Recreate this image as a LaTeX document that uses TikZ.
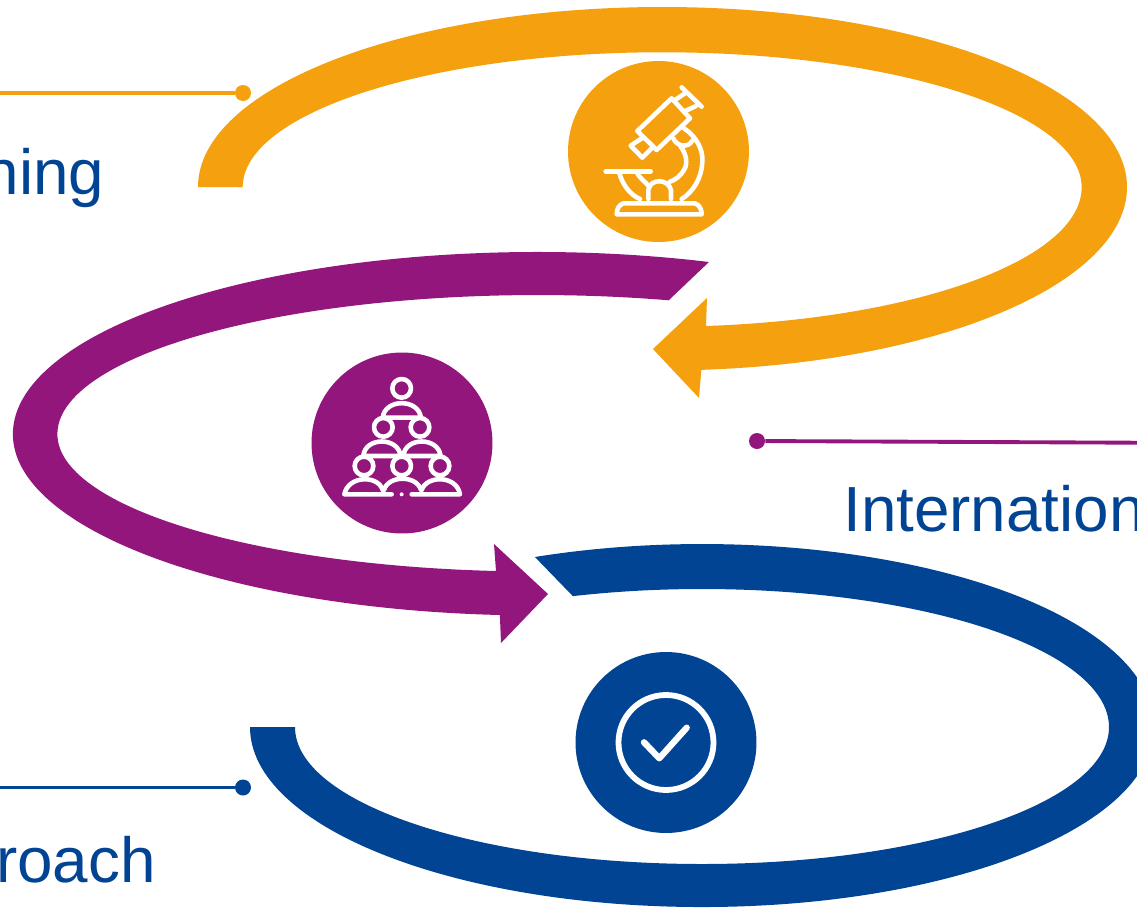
\documentclass[tikz,border=0pt]{standalone}
\usepackage{fontspec}
\setmainfont{Liberation Sans}
\usetikzlibrary{positioning}
\definecolor{cOrange}{HTML}{F4A00F}
\definecolor{cPurple}{HTML}{92167C}
\definecolor{cBlue}{HTML}{014494}
\tikzset{
  badge/.style={circle, minimum size=3.62cm, inner sep=0pt},
  tipdot/.style={circle, minimum size=0.32cm, inner sep=0pt},
  leader/.style={line width=2.2pt},
  label/.style={font=\fontsize{36.3}{43}\selectfont, text=cBlue, inner sep=0pt},
  icon/.style={white, line width=2.6pt, line cap=round, line join=round}
}

\begin{document}
\begin{tikzpicture}[x=0.02cm, y=-0.02cm]
\useasboundingbox (0,0) rectangle (1137,907);
\clip (0,0) rectangle (1137,907);

% Bands
\fill[cOrange] (198,187) arc[start angle=180, end angle=360, x radius=464.5, y radius=180]
  arc[start angle=0, end angle=85.2, x radius=464.5, y radius=183.5]
  -- (699,398) -- (653,349) -- (707,298) -- (706,326)
  arc[start angle=84, end angle=0, x radius=419.5, y radius=139.5]
  arc[start angle=360, end angle=180, x radius=419.5, y radius=135] -- cycle;
\fill[cPurple] (709,262) arc[start angle=289.1, end angle=180, x radius=524.5, y radius=182]
  arc[start angle=180, end angle=94.1, x radius=524.5, y radius=181.5]
  -- (501,643) -- (548,594) -- (494,544) -- (496,571)
  arc[start angle=95, end angle=180, x radius=480.5, y radius=137.5]
  arc[start angle=180, end angle=285.8, x radius=480.5, y radius=139] -- cycle;
\fill[cBlue] (534.9,557) arc[start angle=248.3, end angle=360, x radius=452, y radius=183]
  arc[start angle=0, end angle=180, x radius=452, y radius=180]
  -- (295,727) arc[start angle=180, end angle=0, x radius=407, y radius=137]
  arc[start angle=360, end angle=251.5, x radius=407, y radius=138] -- cycle;

% Badges
\node[badge, fill=cOrange] (O) at (658.5,151.5) {};
\node[badge, fill=cPurple] (P) at (402,443) {};
\node[badge, fill=cBlue] (B) at (666,742.5) {};

% Leaders
\node[tipdot, fill=cOrange] (OD) at (243,93) {};
\coordinate (OE) at (0,93);
\draw[leader, cOrange] (OE) -- (OD);
\node[tipdot, fill=cPurple] (PD) at (757,441) {};
\coordinate (PE) at (1137,442.7);
\draw[leader, cPurple] (PD) -- (PE);
\node[tipdot, fill=cBlue] (BD) at (243,787.5) {};
\coordinate (BE) at (0,787.5);
\draw[leader, cBlue] (BE) -- (BD);

% Labels
\node[label, anchor=base east] (OT) at (104.5,194) {ning};
\node[label, anchor=base west] (PT) at (843,531) {Internation};
\node[label, anchor=base east] (BT) at (156,882) {roach};

% Microscope
\begin{scope}[shift={(560,50)}, scale=0.3333, icon]
\draw (232,243) -- (335,145) -- (390,205) -- (290,300) -- cycle;
\draw (250,262) -- (212,287) -- (247,323) -- (278,292);
\draw (345,150) -- (378,128);
\draw (378,182) -- (408,168);
\draw (365,112) -- (425,170);
\draw (372,235) .. controls (410,260) and (430,300) .. (427,335) .. controls (425,385) and (400,425) .. (365,447);
\draw (362,290) .. controls (378,310) and (385,340) .. (372,360) .. controls (362,378) and (345,390) .. (330,395);
\draw (340,265) .. controls (350,290) and (385,295) .. (397,272);
\draw (178,368) .. controls (185,400) and (210,435) .. (240,447);
\draw (232,370) .. controls (240,385) and (255,395) .. (268,410);
\draw (265,447) -- (265,420) .. controls (270,385) and (325,385) .. (333,420) -- (333,447);
\draw (137,364) -- (272,364);
\draw (190,460) -- (405,460) .. controls (420,465) and (425,480) .. (425,493) -- (170,493) .. controls (170,480) and (175,465) .. (190,460);
\end{scope}

% People
\begin{scope}[shift={(310,350)}, scale=0.3333, icon]
\foreach \hx/\hy in {275/115, 220/232, 330/232, 162/348, 275/348, 390/348}
  \draw (\hx,\hy) circle[radius=28];
\draw (218,203) .. controls (225,145) and (325,145) .. (333,203) -- cycle;
\draw (160,318) .. controls (165,260) and (265,260) .. (272,318) -- cycle;
\draw (280,318) .. controls (285,260) and (385,260) .. (392,318) -- cycle;
\draw (218,420) .. controls (205,375) and (115,375) .. (103,433) -- (245,433);
\draw (222,420) .. controls (235,375) and (320,375) .. (333,420);
\draw (335,420) .. controls (350,375) and (440,375) .. (450,433) -- (305,433);
\fill (275,433) circle[radius=6];
\end{scope}

% Check
\draw[icon, line width=3.3pt] (B) circle[radius=47.5];
\draw[icon, line width=3.6pt] (644,742.3) -- (659.3,758.3) -- (686.7,727.7);
\end{tikzpicture}
\end{document}
